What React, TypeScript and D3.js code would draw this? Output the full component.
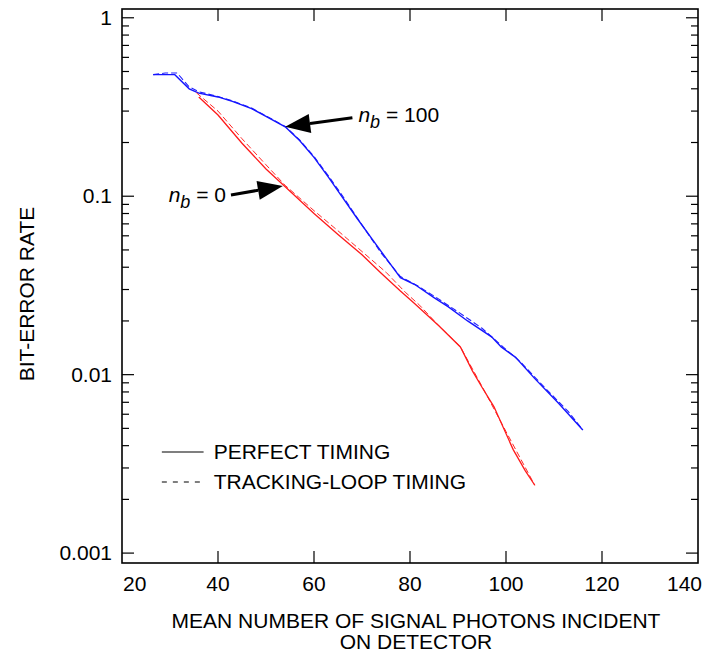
import React from "react";
import * as d3 from "d3";

// photons incident on detector (x) vs bit-error rate (y)
const blueX = [26.5, 31, 34, 36, 40, 43, 47, 50, 54, 57, 60, 63, 66, 69, 72, 75, 78, 81, 85, 88, 92, 97, 99, 102, 106, 111, 116];
const blueY = [0.48, 0.48, 0.40, 0.378, 0.36, 0.34, 0.31, 0.28, 0.245, 0.205, 0.165, 0.128, 0.098, 0.075, 0.058, 0.045, 0.035, 0.032, 0.027, 0.024, 0.020, 0.0163, 0.0143, 0.0125, 0.0095, 0.0069, 0.0049];
const blueDashX = [26.5, 29, 31.5, 34, 36, 40, 43, 47, 50, 54, 57, 60, 63, 66, 70, 74, 78, 82, 86, 90, 95, 99, 103, 108, 113, 116];
const blueDashY = [0.48, 0.49, 0.49, 0.41, 0.385, 0.362, 0.342, 0.312, 0.282, 0.246, 0.207, 0.167, 0.13, 0.1, 0.069, 0.048, 0.0355, 0.031, 0.0265, 0.0225, 0.0182, 0.0146, 0.0118, 0.0085, 0.0062, 0.0049];
const redX = [36, 40, 45, 50, 54, 60, 65, 70, 74, 78, 81, 86, 90.5, 93, 95, 97.5, 101.5, 104, 106];
const redY = [0.36, 0.285, 0.198, 0.142, 0.113, 0.08, 0.061, 0.047, 0.037, 0.0294, 0.025, 0.0188, 0.0143, 0.0105, 0.0085, 0.0066, 0.0038, 0.0029, 0.0024];
const redDashX = [35.5, 40, 45, 50, 54, 60, 65, 70, 75, 79, 82, 86, 90.5, 95, 100, 106];
const redDashY = [0.38, 0.3, 0.21, 0.15, 0.115, 0.083, 0.064, 0.049, 0.0375, 0.029, 0.0245, 0.0188, 0.0143, 0.0086, 0.0048, 0.0024];

const xTicks = [20, 40, 60, 80, 100, 120, 140];
const yMajor = [1, 0.1, 0.01, 0.001];
const yMajorLabels = ["1", "0.1", "0.01", "0.001"];
const legendLabels = ["PERFECT TIMING", "TRACKING-LOOP TIMING"];

// annotation arrows: [tailX, tailY, tipX, tipY]
const arrow100 = [68, 0.275, 54.0, 0.245];
const arrow0 = [42.7, 0.1017, 53.5, 0.114];

const W = 703;
const H = 654;
const FONT = "Liberation Sans, Arial, Helvetica, sans-serif";
const FS = 21;

const x = d3.scaleLinear().domain([20, 140]).range([122, 698]);
const y = d3.scaleLog().domain([0.00088, 1.12]).range([563, 9]);

const line = d3
  .line<[number, number]>()
  .x((d) => x(d[0]))
  .y((d) => y(d[1]));

const zip = (a: number[], b: number[]) => a.map((v, i) => [v, b[i]] as [number, number]);

const minor: number[] = [];
[0.001, 0.01, 0.1].forEach((dec) => {
  for (let m = 2; m <= 9; m++) minor.push(m * dec);
});

function Arrow({ a }: { a: number[] }) {
  const x0 = x(a[0]), y0 = y(a[1]), x1 = x(a[2]), y1 = y(a[3]);
  const ang = Math.atan2(y1 - y0, x1 - x0);
  const len = 25, half = 9.5;
  const bx = x1 - len * Math.cos(ang), by = y1 - len * Math.sin(ang);
  const px = -Math.sin(ang) * half, py = Math.cos(ang) * half;
  return (
    <g>
      <line x1={x0} y1={y0} x2={bx} y2={by} stroke="#000" strokeWidth={3} />
      <path d={`M${x1},${y1}L${bx + px},${by + py}L${bx - px},${by - py}Z`} fill="#000" />
    </g>
  );
}

export default function App() {
  const [x0, x1] = x.range();
  const [yb, yt] = y.range();
  return (
    <div style={{ position: "fixed", left: 0, top: 0 }}>
      <svg width={W} height={H} style={{ display: "block", background: "#fff" }} fontFamily={FONT}>
        {/* ticks */}
        {xTicks.map((t, i) => (
          <g key={"xt" + i}>
            {i > 0 && i < xTicks.length - 1 && (
              <>
                <line x1={x(t)} x2={x(t)} y1={yb} y2={yb - 12} stroke="#000" strokeWidth={1.2} />
                <line x1={x(t)} x2={x(t)} y1={yt} y2={yt + 12} stroke="#000" strokeWidth={1.2} />
              </>
            )}
            <text
              x={i === 0 ? x(t) + 1 : i === xTicks.length - 1 ? x(t) + 4 : x(t)}
              y={591}
              fontSize={FS}
              textAnchor={i === 0 ? "start" : i === xTicks.length - 1 ? "end" : "middle"}
            >
              {t}
            </text>
          </g>
        ))}
        {yMajor.map((t, i) => (
          <g key={"ym" + i}>
            <line x1={x0} x2={x0 + 12} y1={y(t)} y2={y(t)} stroke="#000" strokeWidth={1.2} />
            <line x1={x1} x2={x1 - 12} y1={y(t)} y2={y(t)} stroke="#000" strokeWidth={1.2} />
            <text x={112} y={y(t) + 7} fontSize={FS} textAnchor="end">
              {yMajorLabels[i]}
            </text>
          </g>
        ))}
        {minor.map((t, i) => (
          <g key={"yn" + i}>
            <line x1={x0} x2={x0 + 7} y1={y(t)} y2={y(t)} stroke="#000" strokeWidth={1.2} />
            <line x1={x1} x2={x1 - 7} y1={y(t)} y2={y(t)} stroke="#000" strokeWidth={1.2} />
          </g>
        ))}
        <rect x={x0} y={yt} width={x1 - x0} height={yb - yt} fill="none" stroke="#000" strokeWidth={1.6} />

        {/* curves */}
        <path d={line(zip(blueDashX, blueDashY)) || ""} fill="none" stroke="#2020ff" strokeWidth={1.1} strokeDasharray="6,3" />
        <path d={line(zip(blueX, blueY)) || ""} fill="none" stroke="#1515ff" strokeWidth={1.4} />
        <path d={line(zip(redDashX, redDashY)) || ""} fill="none" stroke="#ff2a2a" strokeWidth={1} strokeDasharray="6,3" />
        <path d={line(zip(redX, redY)) || ""} fill="none" stroke="#ff1a1a" strokeWidth={1.3} />

        {/* annotations */}
        <Arrow a={arrow100} />
        <Arrow a={arrow0} />
        <text x={x(arrow100[0]) + 6} y={y(0.262)} fontSize={FS}>
          <tspan fontStyle="italic">n</tspan>
          <tspan fontSize={18} fontStyle="italic" dy={6}>b</tspan>
          <tspan dy={-6}> = 100</tspan>
        </text>
        <text x={x(arrow0[0]) - 5} y={y(0.093)} fontSize={FS} textAnchor="end">
          <tspan fontStyle="italic">n</tspan>
          <tspan fontSize={18} fontStyle="italic" dy={6}>b</tspan>
          <tspan dy={-6}> = 0</tspan>
        </text>

        {/* legend */}
        {legendLabels.map((l, i) => (
          <g key={"lg" + i} transform={`translate(0,${452 + i * 30})`}>
            <line x1={x(28.3)} x2={x(37)} y1={0} y2={0} stroke="#000" strokeWidth={1.2} strokeDasharray={i === 1 ? "5,6" : undefined} />
            <text x={x(39.1)} y={7} fontSize={FS}>
              {l}
            </text>
          </g>
        ))}

        {/* axis titles */}
        <text transform={`translate(34,${(yt + yb) / 2 + 8}) rotate(-90)`} fontSize={FS} textAnchor="middle">
          BIT-ERROR RATE
        </text>
        <text x={416} y={628} fontSize={FS} textAnchor="middle">
          MEAN NUMBER OF SIGNAL PHOTONS INCIDENT
        </text>
        <text x={416} y={649} fontSize={FS} textAnchor="middle">
          ON DETECTOR
        </text>
      </svg>
    </div>
  );
}
